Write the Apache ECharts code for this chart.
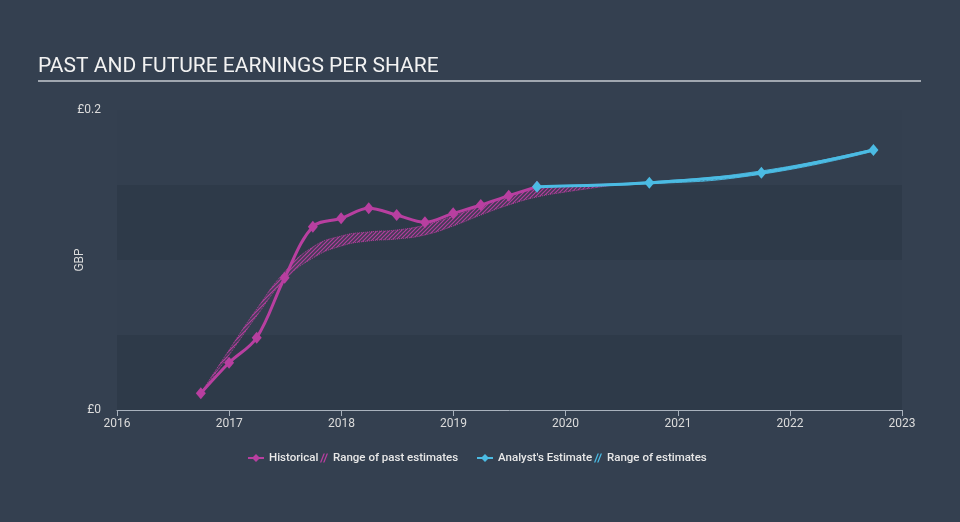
<!DOCTYPE html>
<html>
<head>
<meta charset="utf-8">
<script src="https://cdn.jsdelivr.net/npm/echarts@6/dist/echarts.min.js"></script>
<style>
  html, body { margin: 0; padding: 0; background: #344050; }
  #chart { width: 960px; height: 522px; }
</style>
</head>
<body>
<div id="chart"></div>
<script>
// quarter ends
const histDates = ["2016-09-30", "2016-12-31", "2017-03-31", "2017-06-30", "2017-09-30", "2017-12-31", "2018-03-31",
  "2018-06-30", "2018-09-30", "2018-12-31", "2019-03-31", "2019-06-30", "2019-09-30"];
const histEps = [0.0111, 0.0315, 0.0482, 0.0882, 0.1222, 0.1278, 0.1345, 0.130, 0.1251, 0.1311, 0.1367, 0.1429, 0.1489];

const pastRangeDates = ["2016-09-30", "2016-12-31", "2017-03-31", "2017-06-30", "2017-09-30", "2017-12-31", "2018-03-31",
  "2018-06-30", "2018-09-30", "2018-12-31", "2019-03-31", "2019-06-30", "2019-09-30", "2019-12-31", "2020-03-31", "2020-06-30"];
const pastRangeLow = [0.0113, 0.0367, 0.0627, 0.0867, 0.1013, 0.1093, 0.1127, 0.114, 0.1167, 0.1227, 0.13, 0.1367, 0.142, 0.1453, 0.148, 0.1507];
const pastRangeHigh = [0.0113, 0.040, 0.0673, 0.092, 0.1087, 0.116, 0.1187, 0.12, 0.1233, 0.1293, 0.136, 0.1427, 0.1473, 0.1493, 0.1503, 0.1507];

const estDates = ["2019-09-30", "2020-09-30", "2021-09-30", "2022-09-30"];
const estEps = [0.1489, 0.1515, 0.1582, 0.1733];
const estLow = [0.1489, 0.1508, 0.1572, 0.1726];
const estHigh = [0.1489, 0.1521, 0.1594, 0.1740];

const MAGENTA = "#b83fa0";
const CYAN = "#4bbbe3";
const YEAR = 365.25 * 24 * 3600 * 1000;

function hatch(color, base) {
  const c = document.createElement("canvas");
  c.width = 4;
  c.height = 4;
  const ctx = c.getContext("2d");
  ctx.fillStyle = base;
  ctx.fillRect(0, 0, 4, 4);
  ctx.strokeStyle = color;
  ctx.lineWidth = 1.2;
  ctx.beginPath();
  ctx.moveTo(0, 4);
  ctx.lineTo(4, 0);
  ctx.moveTo(-1, 1);
  ctx.lineTo(1, -1);
  ctx.moveTo(3, 5);
  ctx.lineTo(5, 3);
  ctx.stroke();
  return { image: c, repeat: "repeat" };
}

const pair = (xs, ys) => xs.map((x, i) => [x, ys[i]]);
const diff = (xs, lo, hi) => xs.map((x, i) => [x, hi[i] - lo[i]]);

const hatchIcon = "path://M0,10 L4,0 L5.5,0 L1.5,10 Z M3.5,10 L7.5,0 L9,0 L5,10 Z";
const legendText = { color: "#e8e8e8", fontSize: 11.5, fontWeight: 500 };

function legendItem(left, name, width, extra) {
  return {
    left: left,
    top: 452,
    padding: 0,
    itemWidth: width,
    itemHeight: 10,
    textStyle: legendText,
    data: [Object.assign({ name: name }, extra || {})],
  };
}

const chart = echarts.init(document.getElementById("chart"));

const option = {
  backgroundColor: "#344050",
  animation: false,
  textStyle: { fontFamily: "Roboto, 'Noto Sans', sans-serif" },
  graphic: [
    {
      type: "text",
      left: 38,
      top: 56,
      style: {
        text: "PAST AND FUTURE EARNINGS PER SHARE",
        fill: "#f2f2f2",
        font: "21px Roboto, sans-serif",
      },
    },
    {
      type: "line",
      shape: { x1: 38, y1: 81, x2: 921, y2: 81 },
      style: { stroke: "#c5cad1", lineWidth: 1.5 },
    },
  ],
  grid: { left: 117, right: 58, top: 110, bottom: 112, containLabel: false },
  legend: [
    legendItem(247, "Historical", 16),
    legendItem(320, "Range of past estimates", 8, { icon: hatchIcon, itemStyle: { color: MAGENTA } }),
    legendItem(476, "Analyst's Estimate", 16),
    legendItem(594, "Range of estimates", 8, { icon: hatchIcon, itemStyle: { color: CYAN } }),
  ],
  xAxis: {
    type: "time",
    min: new Date(2016, 0, 1).getTime(),
    max: new Date(2023, 0, 1).getTime(),
    splitNumber: 7,
    minInterval: YEAR * 0.99,
    maxInterval: YEAR * 1.01,
    axisLine: { lineStyle: { color: "#a9b2bd", width: 1 } },
    axisTick: { show: true, length: 6, lineStyle: { color: "#a9b2bd" } },
    axisLabel: {
      color: "#dcdcdc",
      fontSize: 12,
      margin: 8,
      showMinLabel: true,
      showMaxLabel: true,
      formatter: (v) => String(new Date(v).getFullYear()),
    },
    splitLine: { show: false },
  },
  yAxis: {
    type: "value",
    min: 0,
    max: 0.2,
    interval: 0.05,
    name: "GBP",
    nameLocation: "middle",
    nameGap: 31,
    nameMoveOverlap: false,
    nameTextStyle: { color: "#dcdcdc", fontSize: 12 },
    axisLine: { show: false },
    axisTick: { show: false },
    axisLabel: {
      color: "#dcdcdc",
      fontSize: 12,
      margin: 16,
      formatter: (v) => (Math.abs(v) < 1e-9 ? "£0" : Math.abs(v - 0.2) < 1e-9 ? "£0.2" : ""),
    },
    splitLine: { show: false },
    splitArea: {
      show: true,
      areaStyle: { color: ["#2e3a49", "#333f4f"] },
    },
  },
  series: [
    {
      name: "pastLow",
      type: "line",
      stack: "past",
      data: pair(pastRangeDates, pastRangeLow),
      smooth: 0.5,
      symbol: "none",
      lineStyle: { color: MAGENTA, width: 1, type: "dotted", opacity: 0.9 },
      z: 2,
    },
    {
      name: "Range of past estimates",
      type: "line",
      stack: "past",
      data: diff(pastRangeDates, pastRangeLow, pastRangeHigh),
      smooth: 0.5,
      symbol: "none",
      itemStyle: { color: MAGENTA },
      lineStyle: { color: MAGENTA, width: 1, type: "dotted", opacity: 0.9 },
      areaStyle: { color: hatch("rgba(184,63,160,0.95)", "rgba(184,63,160,0.15)"), opacity: 1 },
      z: 2,
    },
    {
      name: "estLow",
      type: "line",
      stack: "est",
      data: pair(estDates, estLow),
      smooth: 0.5,
      symbol: "none",
      lineStyle: { color: CYAN, width: 1, opacity: 0.9 },
      z: 2,
    },
    {
      name: "Range of estimates",
      type: "line",
      stack: "est",
      data: diff(estDates, estLow, estHigh),
      smooth: 0.5,
      symbol: "none",
      itemStyle: { color: CYAN },
      lineStyle: { color: CYAN, width: 1, opacity: 0.9 },
      areaStyle: { color: hatch("rgba(75,187,227,0.95)", "rgba(75,187,227,0.2)"), opacity: 1 },
      z: 2,
    },
    {
      name: "Historical",
      type: "line",
      data: pair(histDates, histEps),
      smooth: 0.35,
      symbol: "diamond",
      symbolSize: [10, 12],
      showSymbol: true,
      itemStyle: { color: MAGENTA },
      lineStyle: { color: MAGENTA, width: 3 },
      z: 5,
    },
    {
      name: "Analyst's Estimate",
      type: "line",
      data: pair(estDates, estEps),
      smooth: 0.35,
      symbol: "diamond",
      symbolSize: [10, 12],
      itemStyle: { color: CYAN },
      lineStyle: { color: CYAN, width: 3 },
      z: 6,
    },
  ],
};

chart.setOption(option);
</script>
</body>
</html>
